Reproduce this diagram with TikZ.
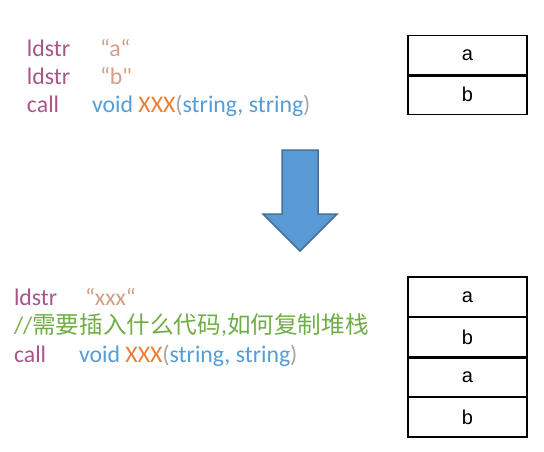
\documentclass[tikz,border=0pt]{standalone}
\usepackage{fontspec}
\setmainfont{Carlito}
\newfontfamily\codefont{Carlito}
\newfontfamily\cjk{Noto Sans CJK SC}
\newfontfamily\boxfont{Liberation Sans}
\definecolor{opc}{HTML}{A8558A}
\definecolor{strc}{HTML}{D69D85}
\definecolor{typec}{HTML}{569CD6}
\definecolor{fnc}{HTML}{ED7D31}
\definecolor{parc}{HTML}{A5A5A5}
\definecolor{cmtc}{HTML}{70AD47}
\definecolor{arrowfill}{HTML}{5B9BD5}
\definecolor{arrowline}{HTML}{41719C}
\begin{document}
\begin{tikzpicture}[x=1pt,y=-1pt,
  code/.style={anchor=base west, inner sep=0pt, outer sep=0pt, font=\codefont\fontsize{23.8}{28}\selectfont},
  cell/.style={draw=black, line width=1.6pt, minimum width=119pt, minimum height=40pt,
    inner sep=0pt, outer sep=0pt, font=\boxfont\fontsize{20}{22}\selectfont},
  thickdiv/.style={draw=black, line width=3pt}
]
\useasboundingbox (0,0) rectangle (544,451);

% top code
\node[code, text=opc] (t1op) at (27,56) {ldstr};
\node[code, text=strc] (t1arg) at (100,56) {“a“};
\node[code, text=opc] (t2op) at (27,84) {ldstr};
\node[code, text=strc] (t2arg) at (100,84) {“b"};
\node[code, text=opc] (t3op) at (27,112) {call};
\node[code] (t3arg) at (92,112) {{\color{typec}void }{\color{fnc}XXX}{\color{parc}(}{\color{typec}string, string}{\color{parc})}};

% top stack
\node[cell] (sa) at (467.5,55.5) {a};
\node[cell] (sb) at (467.5,94.5) {b};
\draw[thickdiv] (sa.south west) -- (sa.south east);

% arrow
\path[fill=arrowfill, draw=arrowline, line width=1.5pt, line join=miter]
  (282,150) -- (318,150) -- (318,214) -- (337,214) -- (300,251) -- (263,214) -- (282,214) -- cycle;
\coordinate (arrowtop) at (300,150);

% bottom code
\node[code, text=opc] (b1op) at (14,305) {ldstr};
\node[code, text=strc] (b1arg) at (85,305) {“xxx“};
\node[code, text=cmtc] (b2) at (14,333) {//{\cjk\fontsize{23.6}{28}\selectfont 需要插入什么代码},{\cjk\fontsize{23.6}{28}\selectfont 如何复制堆栈}};
\node[code, text=opc] (b3op) at (14,362) {call};
\node[code] (b3arg) at (79,362) {{\color{typec}void }{\color{fnc}XXX}{\color{parc}(}{\color{typec}string, string}{\color{parc})}};

% bottom stack
\node[cell] (ca) at (467.5,297) {a};
\node[cell] (cb) at (467.5,337) {b};
\node[cell] (cc) at (467.5,377) {a};
\node[cell] (cd) at (467.5,417) {b};
\draw[thickdiv] (cb.south west) -- (cb.south east);
\end{tikzpicture}
\end{document}
